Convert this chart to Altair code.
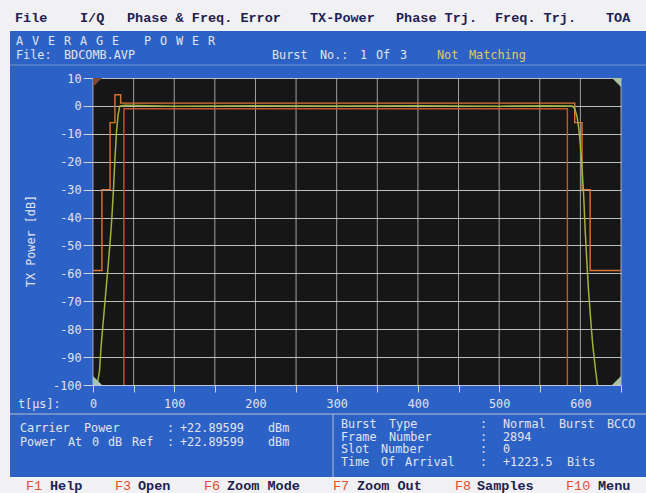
import altair as alt
import pandas as pd

# ---------------------------------------------------------------- data
# Upper power/time template of the burst (time in µs, level in dB)
upper_t = [0, 11, 11, 21, 21, 27, 27, 34, 34, 593, 593, 602, 602, 612, 612, 650]
upper_db = [-59, -59, -30, -30, -6, -6, 4, 4, 1, 1, -6, -6, -30, -30, -59, -59]

# Lower template over the useful part of the burst
lower_t = [38, 38, 584, 584]
lower_db = [-100, -1, -1, -100]

# Averaged measured burst power
trace_t = [5, 8, 10, 13, 16, 19, 21, 23, 25, 27, 29, 31, 33, 40, 100, 200, 300,
           400, 500, 560, 590, 593, 596, 598, 600, 602, 604, 606, 608, 610, 612,
           615, 618, 621]
trace_db = [-100, -95, -86, -76, -66, -56, -49, -41, -31, -19, -9, -3, 0, 0.2,
            -0.1, 0.1, 0.0, 0.1, -0.1, 0.1, 0, -1, -4, -8, -14, -22, -32, -45,
            -56, -66, -74, -85, -93, -100]

# Axis ranges, tick and grid positions
T_DOMAIN = [0, 650]
DB_DOMAIN = [-100, 10]
t_ticks = list(range(0, 651, 50))
db_ticks = list(range(-100, 11, 10))

# Screen text
menu_items = ["File", "I/Q", "Phase & Freq. Error", "TX-Power", "Phase Trj.", "Freq. Trj.", "TOA"]
fkeys = [("F1", "Help"), ("F3", "Open"), ("F6", "Zoom Mode"),
         ("F7", "Zoom Out"), ("F8", "Samples"), ("F10", "Menu")]
left_info = [("Carrier Power", "+22.89599", "dBm"),
             ("Power At 0 dB Ref", "+22.89599", "dBm")]
right_info = [("Burst Type", "Normal Burst BCCO"), ("Frame Number", "2894"),
              ("Slot Number", "0"), ("Time Of Arrival", "+1223.5 Bits")]

# ---------------------------------------------------------------- style
W, H = 646, 493
X0, Y0 = 93, 78           # top-left corner of the plot area
PW, PH = 528, 307         # plot area size
CELL = 8                  # character cell width of the panel font
BLUE = "#2c62c5"
PLOT_BG = "#161616"
PANEL_TEXT = "#e2e3ee"
GRID = "#cfd0d8"
MENU_TEXT = "#1d2152"
FKEY_RED = "#e0502a"
BAR_WHITE = "#f1f1f3"
MONO = "DejaVu Sans Mono"
TYPE = "Liberation Mono"
FS = 11.8

one_row = alt.Data(values=[{}])


def text_at(s, x, y, color=PANEL_TEXT, font=MONO, size=FS, weight="normal",
            align="left", angle=0):
    return alt.Chart(one_row).mark_text(
        text=s, font=font, fontSize=size, fontWeight=weight, color=color,
        align=align, baseline="middle", angle=angle,
    ).encode(x=alt.value(x - X0), y=alt.value(y - Y0))


def cell_text(s, x, y, **kw):
    """Panel text laid out word by word on the fixed character grid."""
    out, i = [], 0
    for word in s.split(" "):
        if word:
            out.append(text_at(word, x + CELL * i, y, **kw))
        i += len(word) + 1
    return out


def box(x1, y1, x2, y2, color):
    return alt.Chart(one_row).mark_rect(color=color).encode(
        x=alt.value(x1 - X0), x2=alt.value(x2 - X0),
        y=alt.value(y1 - Y0), y2=alt.value(y2 - Y0))


def hline(x1, x2, y, color=GRID, width=1, opacity=0.8):
    return alt.Chart(one_row).mark_rule(color=color, strokeWidth=width, opacity=opacity).encode(
        x=alt.value(x1 - X0), x2=alt.value(x2 - X0), y=alt.value(y - Y0))


def vline(x, y1, y2, color=GRID, width=1, opacity=0.8):
    return alt.Chart(one_row).mark_rule(color=color, strokeWidth=width, opacity=opacity).encode(
        x=alt.value(x - X0), y=alt.value(y1 - Y0), y2=alt.value(y2 - Y0))


def corner(x, y, path, color):
    return alt.Chart(one_row).mark_point(
        shape=path, filled=True, color=color, opacity=1, size=324, strokeWidth=0
    ).encode(x=alt.value(x - X0), y=alt.value(y - Y0))


# ---------------------------------------------------------------- axes
t_scale = alt.Scale(domain=T_DOMAIN, nice=False, zero=False)
db_scale = alt.Scale(domain=DB_DOMAIN, nice=False, zero=False)

x_enc = alt.X(
    "t:Q", scale=t_scale,
    axis=alt.Axis(
        values=t_ticks,
        labelExpr="datum.value % 100 == 0 && datum.value < 650 ? '' + datum.value : ''",
        grid=False, domain=False, ticks=True, tickColor=GRID, tickSize=7,
        labelFont=MONO, labelFontSize=FS, labelColor=PANEL_TEXT,
        labelPadding=6, labelFlush=False, labelOverlap=False, title=None,
    ),
)
y_enc = alt.Y(
    "db:Q", scale=db_scale,
    axis=alt.Axis(
        values=db_ticks, labelExpr="'' + datum.value",
        grid=True, gridColor=GRID, gridWidth=1, gridOpacity=0.9,
        domain=False, ticks=True, tickColor=GRID, tickSize=10,
        labelFont=MONO, labelFontSize=FS, labelColor=PANEL_TEXT,
        labelPadding=2, labelOverlap=False, title=None,
    ),
)

upper_df = pd.DataFrame({"t": upper_t, "db": upper_db, "i": range(len(upper_t))})
lower_df = pd.DataFrame({"t": lower_t, "db": lower_db, "i": range(len(lower_t))})
trace_df = pd.DataFrame({"t": trace_t, "db": trace_db, "i": range(len(trace_t))})
grid_df = pd.DataFrame({"t": t_ticks})

# vertical time grid, every 50 µs
t_grid = alt.Chart(grid_df).mark_rule(color="#d2ccd0", strokeWidth=1, opacity=0.75).encode(
    x=x_enc)

upper = alt.Chart(upper_df).mark_line(color="#dc7434", strokeWidth=1.4).encode(
    x=x_enc, y=y_enc, order="i:Q")
lower = alt.Chart(lower_df).mark_line(color="#c9542c", strokeWidth=1.4).encode(
    x=x_enc, y=y_enc, order="i:Q")
trace = alt.Chart(trace_df).mark_line(color="#9db53c", strokeWidth=1.5).encode(
    x=x_enc, y=y_enc, order="i:Q")

# ---------------------------------------------------------------- screen frame
layers = [
    box(0, 0, W, 31, BAR_WHITE),          # menu bar
    box(0, 477, W, H, BAR_WHITE),         # function key bar
    box(0, 31, 10, 477, BAR_WHITE),       # left margin
    hline(10, W, 65, opacity=0.45),
    hline(10, W, 414, opacity=0.85),
    vline(333, 414, 477, opacity=0.85),
]

# menu bar entries
menu_x = [15, 80, 127, 310, 396, 495, 606]
for label, x in zip(menu_items, menu_x):
    layers.append(text_at(label, x, 18, color=MENU_TEXT, font=TYPE, size=13.5, weight="bold"))

# header of the measurement panel
layers += cell_text("A V E R A G E   P O W E R", 16, 41)
layers += cell_text("File: BDCOMB.AVP", 16, 55)
layers += cell_text("Burst No.: 1 Of 3", 272, 55)
layers += cell_text("Not Matching", 437, 55, color="#e2c864")
layers += [
    text_at("TX Power [dB]", 31, 241, angle=270, align="center"),
    text_at("t[µs]:", 18, 404),
]

# result boxes
for (label, value, unit), y in zip(left_info, [428, 442]):
    layers += cell_text(label, 20, y)
    layers += [text_at(":", 167, y), text_at(value, 180, y), text_at(unit, 268, y)]
for (label, value), y in zip(right_info, [424, 436.7, 449.3, 462]):
    layers += cell_text(label, 341, y)
    layers += [text_at(":", 480, y)]
    layers += cell_text(value, 503, y)

# function keys
fkey_x = [(26, 50), (115, 138), (204, 227), (333, 357), (455, 477), (566, 598)]
for (key, name), (kx, nx) in zip(fkeys, fkey_x):
    layers += [text_at(key, kx, 486, color=FKEY_RED, font=TYPE, size=13.5),
               text_at(name, nx, 486, color=MENU_TEXT, font=TYPE, size=13.5, weight="bold")]

# data layers
layers += [t_grid, upper, lower, trace]

# rounded-off screen corners of the plot area
layers += [
    corner(X0, Y0, "M 0 0 L 1 0 L 0 1 Z", "#7c4a36"),
    corner(X0 + PW, Y0, "M 0 0 L -1 0 L 0 1 Z", "#a9c3a2"),
    corner(X0, Y0 + PH, "M 0 0 L 1 0 L 0 -1 Z", "#a7c4b4"),
    corner(X0 + PW, Y0 + PH, "M 0 0 L -1 0 L 0 -1 Z", "#a9c3a2"),
]

chart = alt.layer(*layers).properties(
    width=PW, height=PH,
    autosize=alt.AutoSizeParams(type="none"),
    padding={"left": X0, "top": Y0, "right": W - X0 - PW, "bottom": H - Y0 - PH},
    background=BLUE,
).configure_view(fill=PLOT_BG, stroke=None)

chart.save("out.html", embed_options={"renderer": "svg", "actions": False})
